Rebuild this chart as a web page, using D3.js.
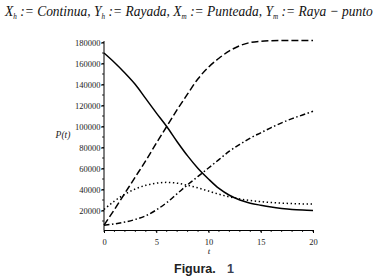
<!DOCTYPE html>
<html><head><meta charset="utf-8">
<script src="https://cdn.jsdelivr.net/npm/d3@7"></script>
<style>body{margin:0;background:#fff}svg{display:block}</style>
</head><body>
<svg id="c" width="380" height="280"></svg>
<script>
const tVals = [0,1,2,3,4,5,6,7,8,9,10,11,12,13,14,15,16,17,18,19,20];
const Xh = [170000,161000,151000,140000,126500,113000,100000,85500,72000,60000,50000,41000,34500,30000,27000,25000,23300,22000,21000,20400,20000];
const Yh = [6000,21000,36500,52000,67500,84000,100000,116000,131000,145500,156500,165000,172000,177000,180000,181200,181700,181900,182000,182000,182000];
const Xm = [21000,29000,35500,40500,44000,46000,46800,46000,44000,41500,38500,35500,33000,31000,29500,28400,27600,27000,26600,26300,26200];
const Ym = [6000,7200,9000,11500,15000,20500,27500,36000,44500,52500,60500,68500,76500,83000,89000,94000,99000,103500,107500,111000,114500];
const yTicks = [20000,40000,60000,80000,100000,120000,140000,160000,180000];
const xTicks = [0,5,10,15,20];

const svg = d3.select("#c");
const x = d3.scaleLinear().domain([0,20]).range([104,313]);
const y = d3.scaleLinear().domain([1430,181430]).range([230,41]);

// axes
const yAxis = d3.axisLeft(y).tickValues(yTicks).tickSize(3).tickPadding(1).tickFormat(d3.format("d"));
const gy = svg.append("g").attr("transform","translate(104,0)").call(yAxis);
const yMinor = d3.range(10000,181000,10000);
svg.append("g").selectAll("line").data(yMinor).join("line")
  .attr("x1",104).attr("x2",102).attr("y1",d=>y(d)).attr("y2",d=>y(d)).attr("stroke","#000").attr("stroke-width",0.8);
gy.select(".domain").attr("d","M0,"+y.range()[0]+"V41");
const xAxis = d3.axisBottom(x).tickValues(xTicks).tickSize(3).tickPadding(6);
const gx = svg.append("g").attr("transform","translate(0,230)").call(xAxis);
svg.append("g").selectAll("line").data(d3.range(0,21,1)).join("line")
  .attr("x1",d=>x(d)).attr("x2",d=>x(d)).attr("y1",230).attr("y2",232).attr("stroke","#000").attr("stroke-width",0.8);
[gx,gy].forEach(g=>{
  g.selectAll("text").attr("font-family","'Liberation Serif', serif").attr("font-size","8.5px").attr("fill","#222");
  g.selectAll("path,line").attr("stroke","#000");
});
gy.selectAll("text").attr("dx","0.5");

// curves
const line = arr => d3.line().x((d,i)=>x(tVals[i])).y(d=>y(d)).curve(d3.curveMonotoneX)(arr);
const series = [
  {v:Xh, dash:null},
  {v:Yh, dash:"7,3"},
  {v:Xm, dash:"1.4,2.6"},
  {v:Ym, dash:"5.5,2.5,1.5,2.5"}
];
series.forEach(s=>{
  svg.append("path").attr("d",line(s.v)).attr("fill","none").attr("stroke","#000")
    .attr("stroke-width",1.5).attr("stroke-dasharray",s.dash);
});

// axis titles
svg.append("text").attr("x",63).attr("y",138).attr("text-anchor","middle")
  .attr("font-family","'Liberation Serif', serif").attr("font-size","9.5px").attr("font-style","italic").attr("fill","#222").text("P(t)");
svg.append("text").attr("x",209).attr("y",254).attr("text-anchor","middle")
  .attr("font-family","'Liberation Serif', serif").attr("font-size","9px").attr("font-style","italic").attr("fill","#222").text("t");

// title
const title = svg.append("text").attr("x",0).attr("y",0)
  .attr("font-family","'Liberation Serif', serif").attr("font-style","italic").attr("font-size","15px").attr("fill","#111");
const parts = [["X",""],["h","sub"],[" := Continua, Y",""],["h","sub"],[" := Rayada, X",""],["m","sub"],[" := Punteada, Y",""],["m","sub"],[" := Raya − punto",""]];
parts.forEach((p,i)=>{
  const ts = title.append("tspan").text(p[0]);
  if(p[1]==="sub"){ ts.attr("font-size","8px").attr("dy","3"); }
  else if(i>0) ts.attr("dy","-3");
});
const w = title.node().getComputedTextLength();
title.attr("transform","translate(5,16) scale("+(368/w)+",1)");

// caption
const cap = svg.append("text").attr("y",273)
  .attr("font-family","'Liberation Sans', Arial, sans-serif").attr("font-weight","bold").attr("font-size","12.5px").attr("fill","#222");
cap.append("tspan").attr("x",174).text("Figura.");
cap.append("tspan").attr("x",227).attr("fill","#3a4050").text("1");
</script>
</body></html>
